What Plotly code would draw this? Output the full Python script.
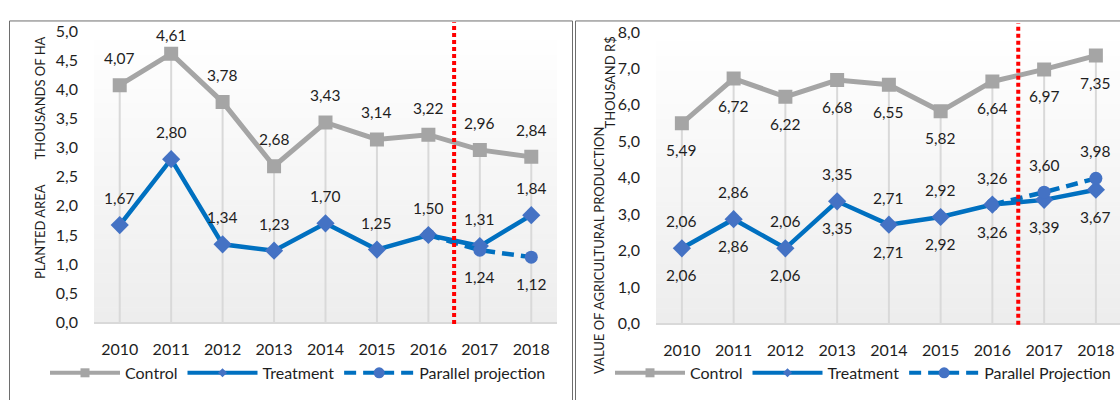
import plotly.graph_objects as go

# ---- data -------------------------------------------------------------
years = [2010, 2011, 2012, 2013, 2014, 2015, 2016, 2017, 2018]

area_control = [4.07, 4.61, 3.78, 2.68, 3.43, 3.14, 3.22, 2.96, 2.84]
area_treatment = [1.67, 2.80, 1.34, 1.23, 1.70, 1.25, 1.50, 1.31, 1.84]
area_projection = [None, None, None, None, None, None, 1.50, 1.24, 1.12]

value_control = [5.49, 6.72, 6.22, 6.68, 6.55, 5.82, 6.64, 6.97, 7.35]
value_treatment = [2.06, 2.86, 2.06, 3.35, 2.71, 2.92, 3.26, 3.39, 3.67]
value_projection = [2.06, 2.86, 2.06, 3.35, 2.71, 2.92, 3.26, 3.60, 3.98]

area_ticks = [0.0, 0.5, 1.0, 1.5, 2.0, 2.5, 3.0, 3.5, 4.0, 4.5, 5.0]
value_ticks = [0.0, 1.0, 2.0, 3.0, 4.0, 5.0, 6.0, 7.0, 8.0]

# ---- styling ----------------------------------------------------------
W, H = 1120, 400
FONT = "Lato"
TXT = "#1E1E1E"
GREY = "#A5A5A5"
BLUE = "#0070C0"
MARK = "#4472C4"
DROP = "#D9D9D9"
PLOT_H = 306          # plot-area height in pixels
LABEL_GAP = 27        # label offset from its point

def px(x):
    return x / W

def py(y):
    return 1 - y / H

def fmt(v):
    return f"{v:.2f}".replace(".", ",")

fig = go.Figure()

panels = [
    dict(xa="x", ya="y", xdom=[px(94), px(557)], ydom=[py(328), py(22)],
         xr=[years[0] - 0.5, years[-1] + 0.5], yr=[0, 5], ticks=area_ticks,
         control=area_control, treatment=area_treatment, proj=area_projection,
         legend="legend", proj_name="Parallel projection",
         ctrl_pos=1, treat_pos=1, proj_pos=-1, proj_label_from=7),
    dict(xa="x2", ya="y2", xdom=[px(656), 1.0], ydom=[py(329), py(23)],
         xr=[years[0] - 0.5, years[0] - 0.5 + 464 / 51.75], yr=[0, 8], ticks=value_ticks,
         control=value_control, treatment=value_treatment, proj=value_projection,
         legend="legend2", proj_name="Parallel Projection",
         ctrl_pos=-1, treat_pos=-1, proj_pos=1, proj_label_from=0),
]

cut = (years[6] + years[7]) / 2
annotations = []
shapes = []

ctrl_line = dict(color=GREY, width=5)
treat_line = dict(color=BLUE, width=4.5)
proj_line = dict(color=BLUE, width=4.5, dash="12px,7px")

for i, p in enumerate(panels):
    xa, ya = p["xa"], p["ya"]
    axis_sfx = "" if i == 0 else "2"
    ymax = p["yr"][1]

    # gradient plot background, white at top to light grey at bottom
    n = 60
    for k in range(n):
        t = (k + 0.5) / n
        c = int(round(255 - (255 - 237) * t))
        shapes.append(dict(type="rect", xref=f"{xa} domain", yref=f"{ya} domain",
                           x0=0, x1=1, y0=1 - (k + 1) / n, y1=1 - k / n + 0.002,
                           fillcolor=f"rgb({c},{c},{c})", line=dict(width=0),
                           layer="below"))

    # drop lines from the highest point down to the axis
    top = [max(a, b, c if c is not None else 0)
           for a, b, c in zip(p["control"], p["treatment"], p["proj"])]
    dx, dy = [], []
    for yr_, v in zip(years, top):
        dx += [yr_, yr_, None]
        dy += [0, v, None]
    fig.add_trace(go.Scatter(x=dx, y=dy, mode="lines", xaxis=xa, yaxis=ya,
                             line=dict(color=DROP, width=2), hoverinfo="skip",
                             showlegend=False))

    fig.add_trace(go.Scatter(x=years, y=p["control"], name="Control", mode="lines+markers",
                             xaxis=xa, yaxis=ya, showlegend=False, line=ctrl_line,
                             marker=dict(symbol="square", size=14, color=GREY)))
    fig.add_trace(go.Scatter(x=years, y=p["treatment"], name="Treatment", mode="lines+markers",
                             xaxis=xa, yaxis=ya, showlegend=False, line=treat_line,
                             marker=dict(symbol="diamond", size=14, color=MARK)))
    proj_y = [v if j >= 6 else None for j, v in enumerate(p["proj"])]
    fig.add_trace(go.Scatter(x=years, y=proj_y, name=p["proj_name"], mode="lines+markers",
                             xaxis=xa, yaxis=ya, showlegend=False, line=proj_line,
                             marker=dict(symbol="circle", size=13, color=MARK)))

    # legend entries with smaller sample markers
    for name, line, sym, size in [("Control", ctrl_line, "square", 9),
                                  ("Treatment", treat_line, "diamond", 7),
                                  (p["proj_name"], proj_line, "circle", 11)]:
        fig.add_trace(go.Scatter(x=[None], y=[None], name=name, mode="lines+markers",
                                 xaxis=xa, yaxis=ya, legend=p["legend"],
                                 line=dict(line, width=4),
                                 marker=dict(symbol=sym, size=size,
                                             color=GREY if name == "Control" else MARK)))

    # data labels, kept inside the plot area
    def add_labels(vals, pos, start=0):
        for j, (yr_, v) in enumerate(zip(years, vals)):
            if v is None or j < start:
                continue
            shift = LABEL_GAP * pos
            if pos > 0:
                shift = min(shift, PLOT_H - 5 - v / ymax * PLOT_H)
            annotations.append(dict(x=yr_, y=v, xref=xa, yref=ya, text=fmt(v),
                                    showarrow=False, yshift=shift,
                                    font=dict(family=FONT, size=15.5, color=TXT)))

    add_labels(p["control"], p["ctrl_pos"])
    add_labels(p["treatment"], p["treat_pos"])
    add_labels(p["proj"], p["proj_pos"], p["proj_label_from"])

    # red dotted cutoff line between 2016 and 2017
    shapes.append(dict(type="line", xref=xa, yref=f"{ya} domain", x0=cut, x1=cut,
                       y0=-0.005, y1=1.03, line=dict(color="#FF0000", width=4, dash="4px,3px")))

    fig.update_layout(**{
        f"xaxis{axis_sfx}": dict(domain=p["xdom"], range=p["xr"], anchor=ya,
                                 tickvals=years, ticktext=[str(y) for y in years],
                                 showgrid=False, zeroline=False, showline=True,
                                 linecolor=DROP, linewidth=2, ticks="",
                                 ticklabelstandoff=11,
                                 tickfont=dict(family=FONT, size=16, color=TXT)),
        f"yaxis{axis_sfx}": dict(domain=p["ydom"], range=p["yr"], anchor=xa,
                                 tickvals=p["ticks"], tickformat=".1f",
                                 showgrid=False, zeroline=False, showline=False, ticks="",
                                 ticklabelstandoff=15,
                                 tickfont=dict(family=FONT, size=16, color=TXT)),
    })

# panel frames
shapes.append(dict(type="rect", xref="paper", yref="paper", x0=px(9.5), x1=px(572.5),
                   y0=py(420), y1=py(11.5), line=dict(color="#6E6E6E", width=1)))
shapes.append(dict(type="rect", xref="paper", yref="paper", x0=px(575.5), x1=px(1140),
                   y0=py(420), y1=py(11.5), line=dict(color="#6E6E6E", width=1)))

# axis titles
title_font = dict(family=FONT, size=13, color=TXT)
for text, x, y in [("THOUSANDS OF HA", 40, 93), ("PLANTED AREA", 40, 233),
                   ("VALUE OF AGRICULTURAL PRODUCTION", 599, 253),
                   ("THOUSAND R$", 610, 76)]:
    annotations.append(dict(text=text, x=px(x), y=py(y), xref="paper", yref="paper",
                            textangle=-90, showarrow=False, font=title_font,
                            xanchor="center", yanchor="middle"))

legend_style = dict(orientation="h", yanchor="middle", xanchor="left", itemwidth=70,
                    bgcolor="rgba(0,0,0,0)", font=dict(family=FONT, size=16, color=TXT),
                    traceorder="normal")

fig.update_layout(
    width=W, height=H, margin=dict(l=0, r=0, t=0, b=0),
    paper_bgcolor="white", plot_bgcolor="rgba(0,0,0,0)",
    separators=",.",
    shapes=shapes, annotations=annotations,
    legend=dict(x=px(45), y=py(381), **legend_style),
    legend2=dict(x=px(610), y=py(381), **legend_style),
)

fig.write_html("out.html")
